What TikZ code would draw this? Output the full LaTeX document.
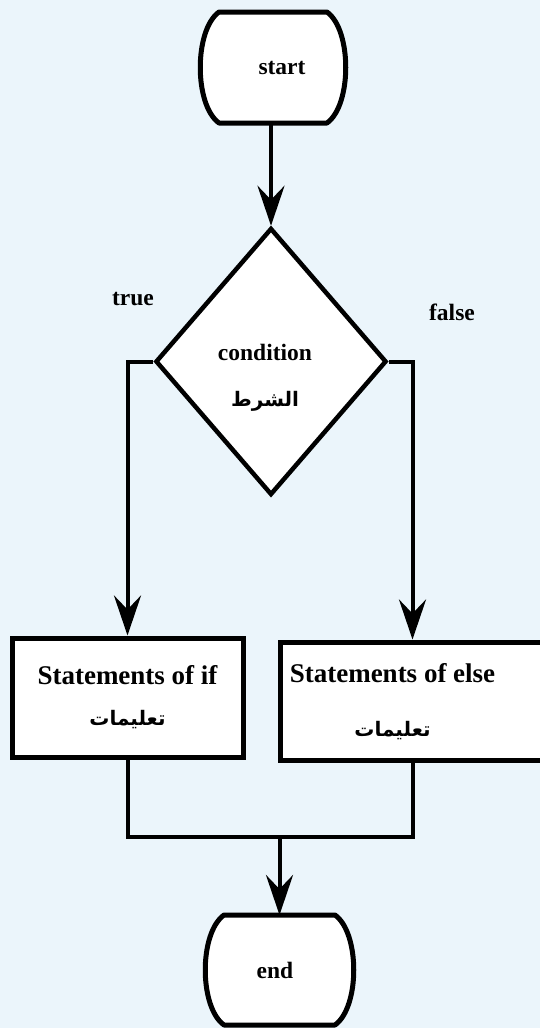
\documentclass[tikz,border=0pt]{standalone}
\usepackage{fontspec}
\setmainfont{Liberation Serif}
\newfontfamily\arabicfont[Script=Arabic]{DejaVu Sans}
\TeXXeTstate=1
\usetikzlibrary{arrows.meta,shapes.geometric,calc,backgrounds}
\definecolor{bgblue}{RGB}{235,245,251}
\newcommand\arabtxt[1]{{\arabicfont\fontsize{20}{20}\selectfont\beginR #1\endR}}
\newcommand\bigfont{\fontsize{27}{41}\selectfont\bfseries}
\newcommand\smallfont{\fontsize{23.5}{46}\selectfont\bfseries}
\newcommand\termoutline[1]{%
  \draw[outline] ($(#1.north west)+(18,0)$) -- ($(#1.north east)+(-18,0)$)
    .. controls ($(#1.north east)+(7,18)$) and ($(#1.south east)+(7,-18)$) .. ($(#1.south east)+(-18,0)$)
    -- ($(#1.south west)+(18,0)$)
    .. controls ($(#1.south west)+(-7,-18)$) and ($(#1.north west)+(-7,18)$) .. cycle;}
\begin{document}
\begin{tikzpicture}[x=1pt,y=-1pt,
  outline/.style={draw=black, line width=5pt, fill=white, line join=round},
  term/.style={rectangle, inner sep=0pt, outer sep=0pt, font=\smallfont},
  boxshape/.style={rectangle, draw=black, line width=5pt, fill=white, inner sep=0pt, align=center, font=\bigfont},
  decision/.style={diamond, draw=black, line width=4.5pt, fill=white, inner sep=0pt},
  lbl/.style={font=\smallfont, align=center, inner sep=0pt},
  conn/.style={draw=black, line width=4pt, line join=miter},
  arr/.style={conn, -{Stealth[length=40pt,width=27pt,inset=14pt]}}]
\useasboundingbox (0,0) rectangle (540,1028);
\begin{scope}[on background layer]
  \fill[bgblue] (0,0) rectangle (540,1028);
\end{scope}
\clip (0,0) rectangle (540,1028);
% terminators
\node[term, minimum width=144pt, minimum height=111pt] (start) at (273,67.5) {\hspace*{18pt}start};
\node[term, minimum width=147pt, minimum height=110pt] (end) at (279.5,970) {\hspace*{-9pt}end};
\begin{scope}[on background layer]
  \termoutline{start}
  \termoutline{end}
\end{scope}
% decision
\node[decision, minimum width=231pt, minimum height=267pt] (cond) at (271,361.5) {};
\node[lbl] (condtext) at (265,378) {condition\\\arabtxt{الشرط}};
% branch labels
\node[lbl] (truelbl) at (133,299) {true};
\node[lbl] (falselbl) at (452,312) {false};
% statement boxes
\node[boxshape, minimum width=231pt, minimum height=119pt] (ifbox) at (127.5,697.5) {Statements of if\\\arabtxt{تعليمات}};
\node[boxshape, minimum width=265pt, minimum height=118pt] (elsebox) at (412.5,701) {\hspace*{-40pt}\begin{tabular}{@{}c@{}}Statements of else\\[13pt]\arabtxt{تعليمات}\end{tabular}};
% connectors
\coordinate (join) at (279.5,837);
\draw[arr] (start.south -| cond.north) -- (cond.north);
\draw[arr] (cond.west) -| (ifbox.north);
\draw[arr] (cond.east) -| (elsebox.north);
\draw[conn] (ifbox.south) |- (join) -| (elsebox.south);
\draw[arr] (join) -- (end.north);
\end{tikzpicture}
\end{document}
